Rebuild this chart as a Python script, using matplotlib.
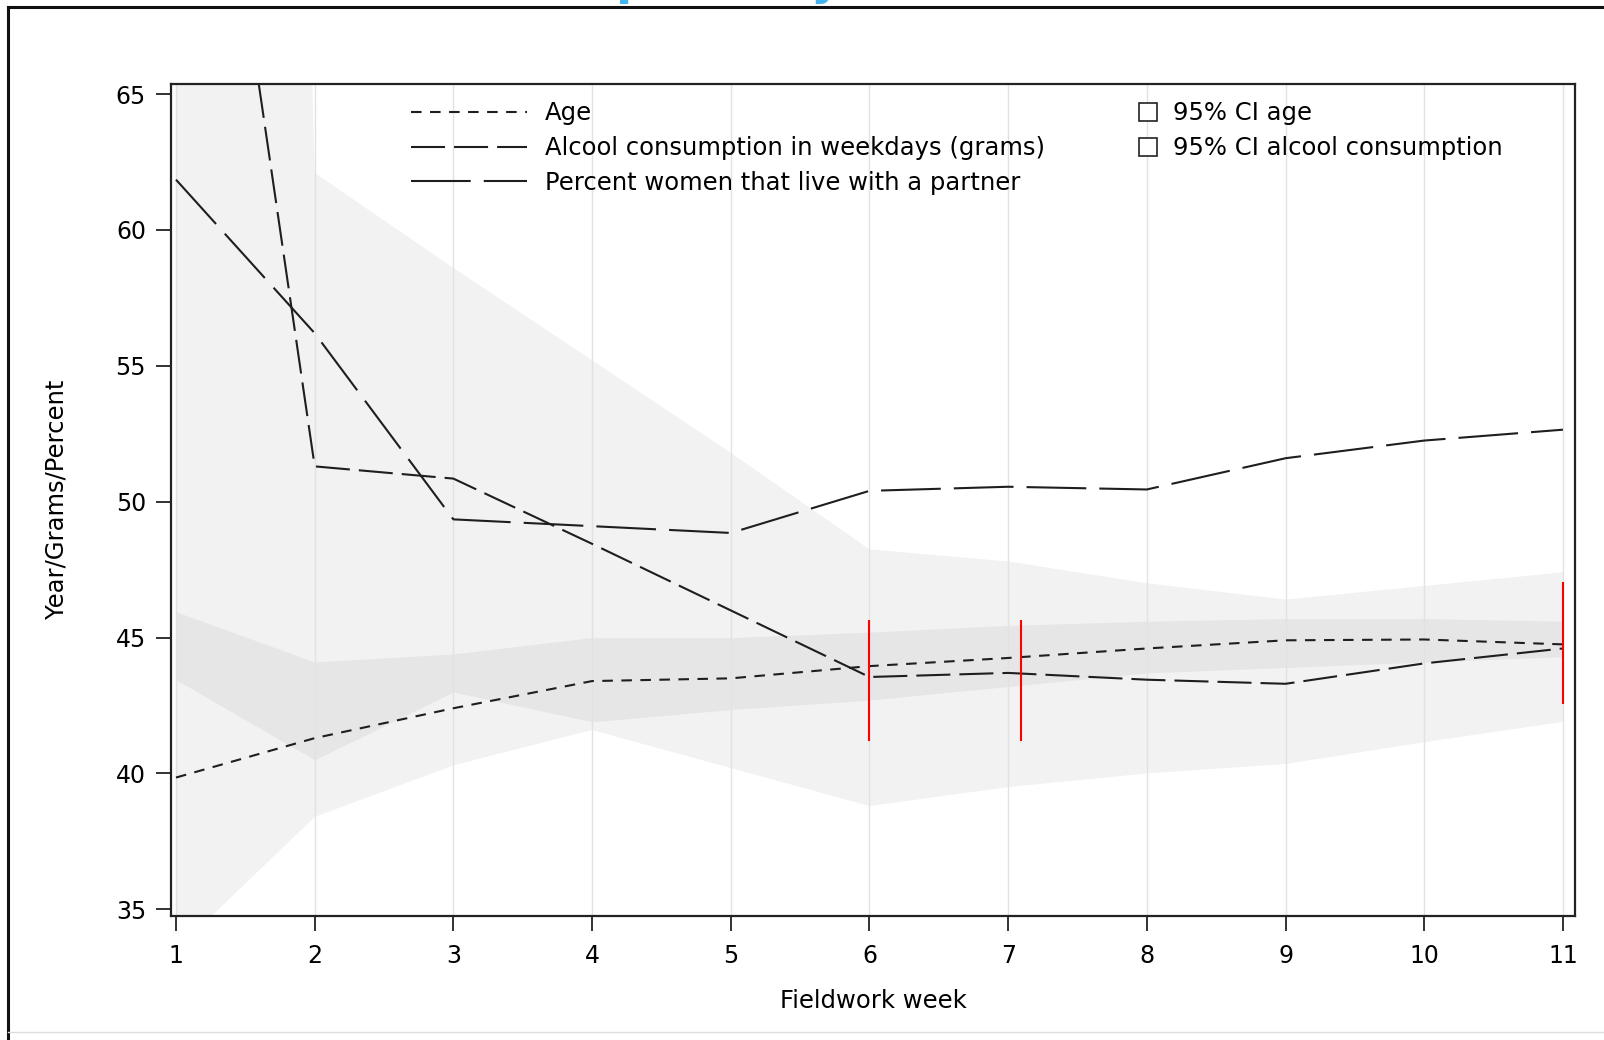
import matplotlib
matplotlib.use("Agg")
import matplotlib.pyplot as plt
from matplotlib.lines import Line2D

plt.rcParams['font.family'] = ['DejaVu Sans']
plt.rcParams['lines.scale_dashes'] = False

# ---- data ----
weeks = [1, 2, 3, 4, 5, 6, 7, 8, 9, 10, 11]
age = [39.85, 41.3, 42.4, 43.4, 43.5, 43.95, 44.25, 44.6, 44.9, 44.93, 44.75]
alcohol = [86.2, 51.3, 50.85, 48.45, 46.0, 43.55, 43.7, 43.45, 43.3, 44.05, 44.6]
partner = [61.85, 56.2, 49.35, 49.1, 48.85, 50.4, 50.55, 50.45, 51.6, 52.25, 52.65]
age_lo = [43.45, 40.5, 43.0, 41.9, 42.35, 42.7, 43.2, 43.7, 43.9, 44.1, 44.3]
age_hi = [45.95, 44.1, 44.4, 45.0, 45.0, 45.2, 45.45, 45.6, 45.7, 45.7, 45.6]
alc_lo = [33.5, 38.4, 40.3, 41.6, 40.2, 38.8, 39.5, 40.0, 40.35, 41.15, 41.9]
alc_hi = [250.0, 62.1, 58.6, 55.2, 51.8, 48.25, 47.8, 47.0, 46.4, 46.9, 47.4]
red_x = [6, 7.09, 11]
red_lo = [41.2, 41.2, 42.55]
red_hi = [45.65, 45.65, 47.05]
xticks = [1, 2, 3, 4, 5, 6, 7, 8, 9, 10, 11]
yticks = [35, 40, 45, 50, 55, 60, 65]
labels = ["Age", "Alcool consumption in weekdays (grams)", "Percent women that live with a partner"]
ci_labels = ["95% CI age", "95% CI alcool consumption"]

W, H = 1604, 1040
fig = plt.figure(figsize=(W / 100, H / 100), dpi=100)

L, R, T, B = 171, 1575, 84, 915.6
ax = fig.add_axes([L / W, 1 - B / H, (R - L) / W, (B - T) / H])

ax.fill_between(weeks, alc_lo, alc_hi, color='#f2f2f2', lw=0, zorder=1)
ax.fill_between(weeks, age_lo, age_hi, color='#e6e6e6', lw=0, zorder=1.5)

for xv in xticks:
    ax.axvline(xv, color='#e2e2e2', lw=1.0, zorder=2)

lc = '#1e1e1e'
lw = 1.5
d_age, d_alc, d_par = (7.6, 6.1), (24.5, 6.5), (43, 9.4)
ax.plot(weeks, age, color=lc, lw=lw, dashes=d_age, zorder=4)
ax.plot(weeks, alcohol, color=lc, lw=lw, dashes=d_alc, zorder=4)
ax.plot(weeks, partner, color=lc, lw=lw, dashes=d_par, zorder=4)

ax.vlines(red_x, red_lo, red_hi, color='#ff0000', lw=1.5, zorder=5)

ax.set_xlim(0.964, 11.087)
ax.set_ylim(34.77, 65.37)
ax.set_xticks(xticks)
ax.set_yticks(yticks)
ax.tick_params(axis='both', direction='out', length=11, width=1.3, labelsize=17, color='#222222')
ax.tick_params(axis='y', pad=7)
ax.tick_params(axis='x', pad=9.5)
for s in ax.spines.values():
    s.set_linewidth(1.6)
    s.set_color('#222222')
    s.set_zorder(6)

ax.set_xlabel("Fieldwork week", fontsize=17.5, labelpad=15)
ax.set_ylabel("Year/Grams/Percent", fontsize=17.5)
ax.yaxis.set_label_coords((68 - L) / (R - L), 0.5)

fs_leg = 17.5
top_off = 17.4
h1 = [Line2D([], [], color=lc, lw=lw, dashes=d) for d in [d_age, d_alc, d_par]]
leg1 = ax.legend(h1, labels, loc='upper left', bbox_to_anchor=((411 - L) / (R - L), 1 - top_off / (B - T)),
                 frameon=False, fontsize=fs_leg, handlelength=4.77, handletextpad=0.74,
                 labelspacing=0.44, borderpad=0, borderaxespad=0)
ax.add_artist(leg1)
h2 = [Line2D([], [], marker='s', markersize=12.5, markerfacecolor='white', markeredgecolor='#222222',
             markeredgewidth=1.2, linestyle='none') for _ in ci_labels]
leg2 = ax.legend(h2, ci_labels, loc='upper left', bbox_to_anchor=((1136 - L) / (R - L), 1 - top_off / (B - T)),
                 frameon=False, fontsize=fs_leg, handlelength=1.0, handletextpad=0.52,
                 labelspacing=0.44, borderpad=0, borderaxespad=0)

# outer frame
fig.add_artist(Line2D([8 / W, 8 / W], [0, 1 - 7 / H], color='#111111', lw=2.2, transform=fig.transFigure))
fig.add_artist(Line2D([8 / W, 1], [1 - 7 / H, 1 - 7 / H], color='#111111', lw=2.2, transform=fig.transFigure))
fig.add_artist(Line2D([8 / W, 1], [1 - 1032 / H, 1 - 1032 / H], color='#dddddd', lw=1.0, transform=fig.transFigure))

# cut-off blue title fragments at top (only descenders visible in the reference)
fig.text(616 / W, 1 + 6 / H, "p", color='#44b4ee', fontsize=34, fontweight='bold', ha='left', va='baseline')
fig.text(826 / W, 1 + 6 / H, "y", color='#44b4ee', fontsize=34, fontweight='bold', ha='center', va='baseline')

fig.savefig("out.png", dpi=100, facecolor='white')
